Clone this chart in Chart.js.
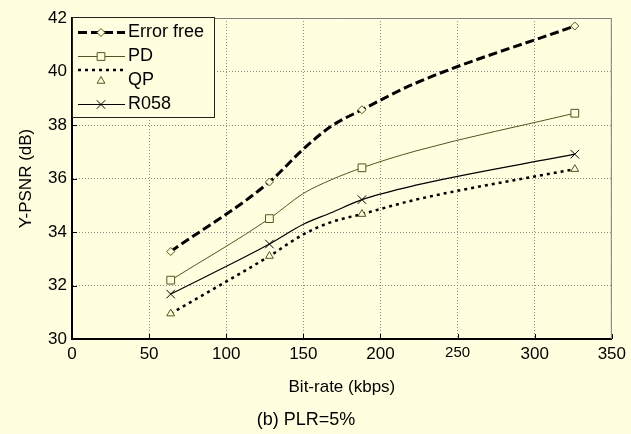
<!DOCTYPE html>
<html>
<head>
<meta charset="utf-8">
<title>Y-PSNR vs bit-rate</title>
<script src="https://cdn.jsdelivr.net/npm/chart.js@4.4.0/dist/chart.umd.min.js"></script>
<style>
  body { margin: 0; background: #ffffe0; }
  #psnrChart { display: block; }
</style>
</head>
<body>
<canvas id="psnrChart" width="631" height="434"></canvas>
<script>
// values (kbps / dB)
const rates = [64, 128, 150, 168, 188, 223, 326];
const markedRates = [64, 128, 188, 326];
const errorFree = [33.27, 35.87, 37.1, 37.95, 38.57, 39.57, 41.7];
const pd = [32.2, 34.5, 35.44, 35.95, 36.4, 37.03, 38.44];
const qp = [30.95, 33.1, 33.91, 34.37, 34.67, 35.21, 36.35];
const r058 = [31.68, 33.55, 34.29, 34.72, 35.21, 35.75, 36.91];
const seriesNames = ['Error free', 'PD', 'QP', 'R058'];
const xTicks = [0, 50, 100, 150, 200, 250, 300, 350];
const yTicks = [30, 32, 34, 36, 38, 40, 42];

const bgColor = '#ffffe0';
const olive = '#55551a';
const fontFamily = 'Arial, "Liberation Sans", sans-serif';

const toPoints = values => values.map((v, i) => ({ x: rates[i], y: v }));

// only the measured rates get a marker, the rest just shape the curve
const markerRadius = size => ctx =>
  markedRates.includes(rates[ctx.dataIndex]) ? size : 0;

function makeSeries(name, values, style) {
  return {
    label: name,
    data: toPoints(values),
    borderColor: style.color,
    borderWidth: style.width,
    borderDash: style.dash,
    pointStyle: style.marker,
    markerSize: style.size,
    pointRadius: markerRadius(style.size),
    pointHoverRadius: markerRadius(style.size),
    pointBorderColor: style.markerColor,
    pointBackgroundColor: bgColor,
    pointBorderWidth: 1,
    cubicInterpolationMode: 'monotone',
    fill: false,
  };
}

const datasets = [
  makeSeries(seriesNames[0], errorFree, { color: '#000', width: 3, dash: [9, 4], marker: 'rectRot', size: 4, markerColor: olive }),
  makeSeries(seriesNames[1], pd, { color: olive, width: 1, dash: [], marker: 'rect', size: 5.5, markerColor: olive }),
  makeSeries(seriesNames[2], qp, { color: '#000', width: 2.5, dash: [3, 4], marker: 'triangle', size: 4.5, markerColor: olive }),
  makeSeries(seriesNames[3], r058, { color: '#000', width: 1.2, dash: [], marker: 'crossRot', size: 6, markerColor: '#000' }),
];

// page background
const chartBackground = {
  id: 'chartBackground',
  beforeDraw(chart) {
    const ctx = chart.ctx;
    ctx.save();
    ctx.fillStyle = bgColor;
    ctx.fillRect(0, 0, chart.width, chart.height);
    ctx.restore();
  },
};

// top/right edges of the box and the inward tick marks
const axisFrame = {
  id: 'axisFrame',
  afterDatasetsDraw(chart) {
    const { ctx, chartArea: a, scales } = chart;
    ctx.save();
    ctx.strokeStyle = '#808080';
    ctx.lineWidth = 1;
    ctx.beginPath();
    ctx.moveTo(a.left, a.top + 0.5);
    ctx.lineTo(a.right - 0.5, a.top + 0.5);
    ctx.lineTo(a.right - 0.5, a.bottom);
    ctx.stroke();

    ctx.strokeStyle = '#000';
    ctx.beginPath();
    scales.x.ticks.forEach(t => {
      const px = Math.round(scales.x.getPixelForValue(t.value)) + 0.5;
      ctx.moveTo(px, a.bottom);
      ctx.lineTo(px, a.bottom - 5);
    });
    scales.y.ticks.forEach(t => {
      const py = Math.round(scales.y.getPixelForValue(t.value)) + 0.5;
      ctx.moveTo(a.left, py);
      ctx.lineTo(a.left + 5, py);
    });
    ctx.stroke();
    ctx.restore();
  },
};

// boxed legend in the upper-left corner, MATLAB style
const boxLegend = {
  id: 'boxLegend',
  afterDraw(chart, args, opts) {
    const ctx = chart.ctx;
    const { left, top, width, height, rows } = opts;
    ctx.save();
    ctx.fillStyle = bgColor;
    ctx.fillRect(left, top, width, height);
    ctx.strokeStyle = '#222';
    ctx.lineWidth = 1;
    ctx.strokeRect(left + 0.5, top + 0.5, width, height);

    chart.data.datasets.forEach((ds, i) => {
      const row = rows[i];
      ctx.save();
      ctx.strokeStyle = ds.borderColor;
      ctx.lineWidth = ds.borderWidth;
      ctx.setLineDash(ds.borderDash || []);
      ctx.beginPath();
      ctx.moveTo(left + 6, row.line);
      ctx.lineTo(left + 53, row.line);
      ctx.stroke();
      ctx.restore();

      ctx.save();
      ctx.strokeStyle = ds.pointBorderColor;
      ctx.fillStyle = bgColor;
      ctx.lineWidth = 1;
      Chart.helpers.drawPoint(ctx, {
        pointStyle: ds.pointStyle,
        radius: ds.markerSize,
        rotation: 0,
        borderWidth: 1,
      }, left + 29, row.marker);
      ctx.restore();

      ctx.fillStyle = '#000';
      ctx.font = '18px ' + fontFamily;
      ctx.textBaseline = 'middle';
      ctx.textAlign = 'left';
      ctx.fillText(ds.label, left + 56, row.text);
    });
    ctx.restore();
  },
};

const config = {
  type: 'line',
  data: { datasets: datasets },
  options: {
    responsive: false,
    devicePixelRatio: 1,
    animation: false,
    events: [],
    layout: { padding: { left: 0, top: 18, right: 19, bottom: 0 } },
    scales: {
      x: {
        type: 'linear',
        min: 0,
        max: 350,
        afterBuildTicks: scale => { scale.ticks = xTicks.map(v => ({ value: v })); },
        afterFit: scale => { scale.height = 65.4; },
        ticks: {
          color: '#000',
          padding: 5,
          maxRotation: 0,
          font: ctx => ({ family: fontFamily, size: ctx.tick && ctx.tick.value === 250 ? 15 : 17 }),
        },
        grid: { color: '#8c8c8c', lineWidth: 1, drawTicks: false },
        border: { color: '#000', width: 2, dash: [1, 2] },
        title: {
          display: true,
          text: 'Bit-rate (kbps)',
          color: '#000',
          font: { family: fontFamily, size: 17 },
          padding: { top: 0, bottom: 7 },
        },
      },
      y: {
        min: 30,
        max: 42,
        afterBuildTicks: scale => { scale.ticks = yTicks.map(v => ({ value: v })); },
        afterFit: scale => { scale.width = 72; },
        ticks: {
          color: '#000',
          padding: 5,
          font: { family: fontFamily, size: 17 },
        },
        grid: { color: '#8c8c8c', lineWidth: 1, drawTicks: false },
        border: { color: '#000', width: 2, dash: [1, 2] },
        title: {
          display: true,
          text: 'Y-PSNR (dB)',
          color: '#000',
          font: { family: fontFamily, size: 17 },
          padding: { top: 16, bottom: 0 },
        },
      },
    },
    plugins: {
      legend: { display: false },
      tooltip: { enabled: false },
      title: {
        display: true,
        position: 'bottom',
        text: '(b) PLR=5%',
        color: '#000',
        font: { family: fontFamily, size: 18, weight: 'normal' },
        padding: { top: 5, bottom: 3 },
      },
      boxLegend: {
        left: 72,
        top: 17,
        width: 142,
        height: 100,
        rows: [
          { line: 32.5, marker: 32.5, text: 32.5 },
          { line: 56.5, marker: 56.5, text: 56.5 },
          { line: 70, marker: 81, text: 80 },
          { line: 104.5, marker: 104.5, text: 104.5 },
        ],
      },
    },
  },
  plugins: [chartBackground, axisFrame, boxLegend],
};

const psnrChart = new Chart(document.getElementById('psnrChart'), config);
</script>
</body>
</html>
